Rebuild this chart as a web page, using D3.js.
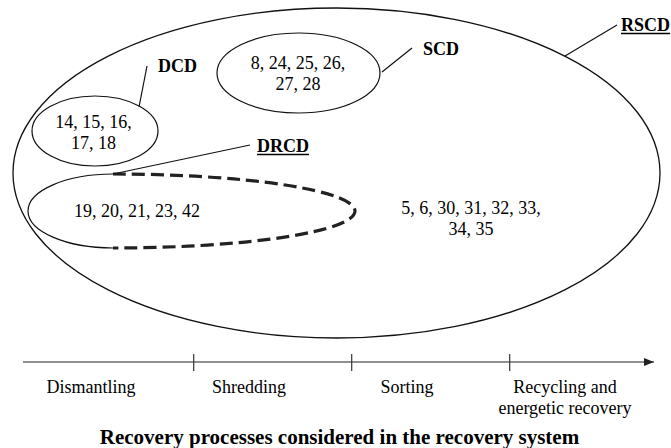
<!DOCTYPE html>
<html><head><meta charset="utf-8">
<script src="https://cdn.jsdelivr.net/npm/d3@7"></script>
<style>
html,body{margin:0;padding:0;background:#fff;}
svg{display:block;font-family:"Liberation Serif","Times New Roman",serif;}
</style></head>
<body>
<script>
// ---- data ----
const processes = ["Dismantling", "Shredding", "Sorting", "Recycling and|energetic recovery"];
const boundaries = [0.65, 1.65, 2.65];
const axisTitle = "Recovery processes considered in the recovery system";
const groupNames = ["RSCD", "DCD", "SCD", "DRCD"];
const groupUnderlined = [true, false, false, true];
const dcdMembers = ["14, 15, 16,", "17, 18"];
const scdMembers = ["8, 24, 25, 26,", "27, 28"];
const drcdMembers = ["19, 20, 21, 23, 42"];
const rscdMembers = ["5, 6, 30, 31, 32, 33,", "34, 35"];

const W = 671, H = 448;
const svg = d3.select("body").append("svg").attr("width", W).attr("height", H);

const x = d3.scaleLinear().domain([0, 3]).range([91, 565]);
const axisY = 362;

// ---- big RSCD ellipse ----
svg.append("ellipse").attr("cx", 336.5).attr("cy", 173).attr("rx", 323.5).attr("ry", 165)
  .attr("fill", "none").attr("stroke", "#111").attr("stroke-width", 1.3);

// ---- DCD ellipse ----
svg.append("ellipse").attr("cx", 95).attr("cy", 131).attr("rx", 63).attr("ry", 35)
  .attr("fill", "none").attr("stroke", "#111").attr("stroke-width", 1.2);

// ---- SCD ellipse ----
svg.append("ellipse").attr("cx", 298.5).attr("cy", 73).attr("rx", 81.5).attr("ry", 40)
  .attr("fill", "none").attr("stroke", "#111").attr("stroke-width", 1.2);

// ---- DRCD shape: solid left half, dashed right half ----
const dcx = 113, dcy = 211, dry = 37;
svg.append("path")
  .attr("d", `M${dcx},${dcy - dry} A85,${dry} 0 0 0 ${dcx},${dcy + dry}`)
  .attr("fill", "none").attr("stroke", "#111").attr("stroke-width", 1.2);
svg.append("path")
  .attr("d", `M${dcx},${dcy - dry} A242,${dry} 0 0 1 ${dcx},${dcy + dry}`)
  .attr("fill", "none").attr("stroke", "#222").attr("stroke-width", 3.2)
  .attr("stroke-dasharray", "13,6");

// ---- leader lines ----
const leaders = [
  [617, 25, 565, 56],
  [147, 66, 139, 107],
  [412, 48, 382, 72],
  [250, 145, 113, 174]
];
svg.selectAll("line.leader").data(leaders).join("line").attr("class", "leader")
  .attr("x1", d => d[0]).attr("y1", d => d[1]).attr("x2", d => d[2]).attr("y2", d => d[3])
  .attr("stroke", "#111").attr("stroke-width", 1.2);

// ---- group labels ----
const labelPos = [[621, 31], [158, 72], [423, 55], [257, 152]];
groupNames.forEach((name, i) => {
  const t = svg.append("text").attr("x", labelPos[i][0]).attr("y", labelPos[i][1])
    .attr("font-size", 18).attr("font-weight", "bold").attr("fill", "#000").text(name);
  if (groupUnderlined[i]) {
    const w = t.node().getComputedTextLength();
    svg.append("line").attr("x1", labelPos[i][0]).attr("x2", labelPos[i][0] + w)
      .attr("y1", labelPos[i][1] + 2.5).attr("y2", labelPos[i][1] + 2.5)
      .attr("stroke", "#000").attr("stroke-width", 1.3);
  }
});

// ---- member texts ----
function members(lines, cx, y0, gap) {
  lines.forEach((s, i) => {
    svg.append("text").attr("x", cx).attr("y", y0 + i * gap)
      .attr("text-anchor", "middle").attr("font-size", 18).attr("fill", "#000").text(s);
  });
}
members(dcdMembers, 93.5, 128, 21);
members(scdMembers, 298, 69, 21);
members(drcdMembers, 137, 217, 21);
members(rscdMembers, 471, 214, 21);

// ---- process axis ----
svg.append("defs").append("marker").attr("id", "arr")
  .attr("viewBox", "0 0 10 10").attr("refX", 10).attr("refY", 5)
  .attr("markerWidth", 10).attr("markerHeight", 10).attr("markerUnits", "userSpaceOnUse")
  .attr("orient", "auto")
  .append("path").attr("d", "M0,1 L10,5 L0,9 Z").attr("fill", "#222");
svg.append("line").attr("x1", 23).attr("x2", 654).attr("y1", axisY).attr("y2", axisY)
  .attr("stroke", "#222").attr("stroke-width", 1.2).attr("marker-end", "url(#arr)");
svg.selectAll("line.tick").data(boundaries).join("line").attr("class", "tick")
  .attr("x1", d => x(d)).attr("x2", d => x(d)).attr("y1", axisY - 8).attr("y2", axisY + 9)
  .attr("stroke", "#333").attr("stroke-width", 1.2);

processes.forEach((p, i) => {
  p.split("|").forEach((s, j) => {
    svg.append("text").attr("x", x(i)).attr("y", 393 + j * 21)
      .attr("text-anchor", "middle").attr("font-size", 18).attr("fill", "#000").text(s);
  });
});

svg.append("text").attr("x", 339.5).attr("y", 444).attr("text-anchor", "middle")
  .attr("font-size", 21).attr("font-weight", "bold").attr("fill", "#000").text(axisTitle);
</script>
</body></html>
